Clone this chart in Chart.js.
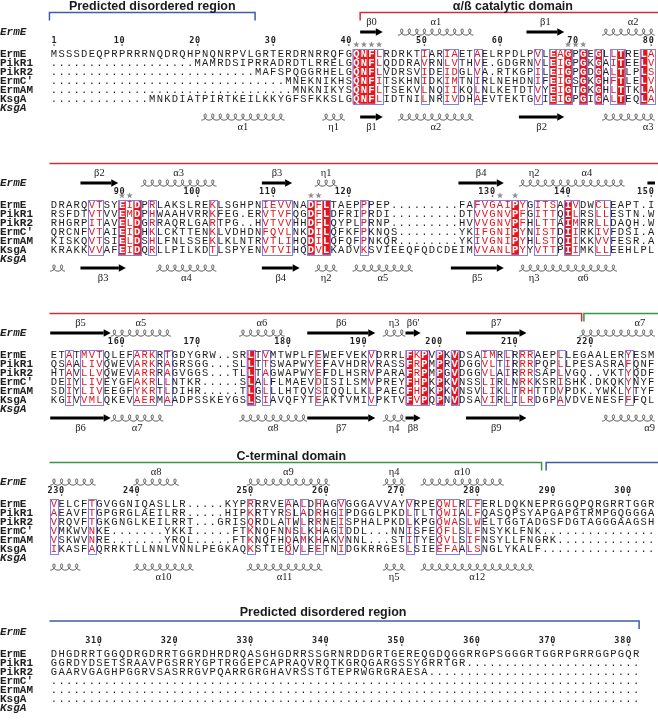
<!DOCTYPE html>
<html>
<head>
<meta charset="utf-8">
<script src="https://cdn.jsdelivr.net/npm/chart.js@4.4.0/dist/chart.umd.min.js"></script>
<style>
  html, body { margin: 0; padding: 0; background: #fff; }
  canvas { display: block; }
</style>
</head>
<body>
<canvas id="aln" width="658" height="722"></canvas>
<script>
// Sequence names, one per alignment row
const seqNames = ['ErmE', 'PikR1', 'PikR2', "ErmC'", 'ErmAM', 'KsgA'];

// Alignment blocks (gaps are '.')
const block1 = [
    'MSSSDEQPRPRRRNQDRQHPNQNRPVLGRTERDRNRRQFGQNFLRDRKTIARIAETAELRPDLPVLEAGPGEGLLTRELA',
    '..........' + '.........' + 'MAMRDSIPRRADRDTLRRELGQNFLQDDRAVRNLVTHVE.GDGRNVLEIGPGKGAITEELV',
    '..........' + '..........' + '.......' + 'MAFSPQGGRHELGQNFLVDRSVIDEIDGLVA.RTKGPILEIGPGDGALTLPLS',
    '..........' + '..........' + '..........' + '.' + 'MNEKNIKHSQNFITSKHNIDKIMTNIRLNEHDNIFEIGSGKGHFTLELV',
    '..........' + '..........' + '..........' + '..' + 'MNKNIKYSQNFLTSEKVLNQIIKQLNLKETDTVYEIGTGKGHLTTKLA',
    '..........' + '...' + 'MNKDIATPIRTKEILKKYGFSFKKSLGQNFLIDTNILNRIVDHAEVTEKTGVIEIGPGIGALTEQLA'
];
const block2 = [
    'DRARQVTSYEIDPRLAKSLREKLSGHPNIEVVNADFLTAEPPPEP.........FAFVGAIPYGITSAIVDWCLEAPT.I',
    'RSFDTVTVVEMDPHWAAHVRRKFEG.ERVTVFQGDFLDFRIPRDI.........DTVVGNVPFGITTQILRSLLESTN.W',
    'RHGRPITAVELDGRRAQRLGARTPG..HVTVVHHDFLQYPLPRNP.........HVVVGNVPFHLTTAIMRRLLDAQH.W',
    'QRCNFVTAIEIDHKLCKTTENKLVDHDNFQVLNKDILQFKFPKNQS........YKIFGNIPYNISTDIIRKIVFDSI.A',
    'KISKQVTSIELDSHLFNLSSEKLKLNTRVTLIHQDILQFQFPNKQR........YKIVGNIPYHLSTQIIKKVVFESR.A',
    'KRAKKVVAFEIDQRLLPILKDTLSPYENVTVIHQDVLKADVKSVIEEQFQDCDEIMVVANLPYYVTTPIIMKLLEEHLPL'
];
const block3 = [
    'ETATMVTQLEFARKRTGDYGRW..SRLTVMTWPLFEWEFVEKVDRRLFKPVPKVDSAIMRLRRRAEPLLEGAALERYESM',
    'QSAALIVQWEVARKRAGRSGG...SLLTTSWAPWYEFAVHDRVRASSFRPMPRVDGGVLTIRRRPQPLLPESASRAFQNF',
    'HTAVLLVQWEVARRRAGVGGS...TLLTAGWAPWYEFDLHSRVPARAFRPMPGVDGGVLAIRRRSAPLVGQ..VKTYQDF',
    'DEIYLIVEYGFAKRLLNTKR.....SLALFLMAEVDISILSMVPREYFHPKPKVNSSLIRLNRKKSRISHK.DKQKYNYF',
    'SDIYLIVEEGFYKRTLDIHR.....TLGLLLHTQVSIQQLLKLPAECFHPKPKVNSVLIKLTRHTTDVPDK.YWKLYTYF',
    'KGIVVMLQKEVAERMAADPSSKEYGSLSIAVQFYTEAKTVMIVPKTVFVPQPNVDSAVIRLILRDGPAVDVENESFFFQL'
];
const block4 = [
    'VELCFTGVGGNIQASLLR.....KYPRRRVEAALDHAGVGGGAVVAYVRPEQWLRLFERLDQKNEPRGGQPQRGRRTGGR',
    'AEAVFTGPGRGLAEILRR.....HIPKRTYRSLADRHGIPDGGLPKDLTLTQWIALFQASQPSYAPGAPGTRMPGQGGGA',
    'VRQVFTGKGNGLKEILRRT...GRISQRDLATWLRRNEISPHALPKDLKPGQWASLWELTGGTADGSFDGTAGGGAAGSH',
    'VMKWVNKE.......YKKI.....FTKNQFNNSLKHAGIDDL...NNISFEQFLSLFNSYKLFNK' + '..........' + '.....',
    'VSKWVNRE.......YRQL.....FTKNQFHQAMKHAKVNNL...STITYEQVLSIFNSYLLFNGRK' + '..........' + '...',
    'IKASFAQRRKTLLNNLVNNLPEGKAQKSTIEQVLEETNIDGKRRGESLSIEEFAALSNGLYKALF' + '..........' + '.....'
];
const block5 = [
    'DHGDRRTGGQDRGDRRTGGRDHRDRQASGHGDRRSSGRNRDDGRTGEREQGDQGGRRGPSGGGRTGGRPGRRGGPGQR',
    'GGRDYDSETSRAAVPGSRRYGPTRGGEPCAPRAQVRQTKGRQGARGSSYGRRTGR' + '..........' + '..........' + '...',
    'GAARVGAGHPGGRVSASRRGVPQARRGRGHAVRSSTGTEPRWGRGRAESA' + '..........' + '..........' + '........',
    '..........' + '..........' + '..........' + '..........' + '..........' + '..........' + '..........' + '........',
    '..........' + '..........' + '..........' + '..........' + '..........' + '..........' + '..........' + '........',
    '..........' + '..........' + '..........' + '..........' + '..........' + '..........' + '..........' + '........'
];
const blocks = [block1, block2, block3, block4, block5];

// Strictly conserved columns (red background) and framed similar columns, per block
const filledCols = [
    [41, 42, 43, 67, 69, 71, 73, 76, 79],
    [10, 12, 35, 37, 62, 69],
    [27, 48, 50, 52, 54],
    [],
    []
];
const framedCols = [
    [41, 42, 43, 44, 50, 53, 54, 57, 65, 67, 68, 69, 71, 73, 75, 76, 79, 80],
    [6, 7, 10, 11, 12, 14, 22, 29, 30, 31, 32, 35, 36, 37, 42, 57, 58, 59, 60, 61, 62, 63, 65, 66, 67, 69, 70, 73, 74],
    [3, 5, 6, 7, 12, 13, 14, 16, 27, 29, 36, 43, 48, 49, 50, 52, 54, 58, 59, 61, 63, 64, 68, 77],
    [1, 6, 27, 32, 34, 36, 39, 48, 52, 53, 54, 56, 57],
    []
];
// grey stars above the ErmE numbering
const starCols = [
    [41, 42, 43, 44, 69, 70, 71],
    [10, 11, 35, 36, 60, 62],
    [], [], []
];

// Secondary structure: [type, fromCol, toCol, label, labelCol?]  H = helix, E = strand, B = strand continuing
const ssErmE = [
    [['E', 42, 44, 'β0'], ['H', 47, 56, 'α1'], ['E', 64, 68, 'β1'], ['H', 74, 80, 'α2', 77.6]],
    [['E', 5, 9, 'β2'], ['H', 13, 22, 'α3'], ['E', 29, 32, 'β3'], ['H', 36, 38, 'η1'], ['E', 55, 60, 'β4'],
     ['H', 63, 66, 'η2'], ['H', 67, 76, 'α4'], ['B', 80, 80, '']],
    [['E', 1, 8, 'β5'], ['H', 9, 16, 'α5'], ['H', 26, 31, 'α6'], ['E', 35, 43, 'β6'], ['H', 45, 47, 'η3'],
     ['E', 48, 49, "β6'"], ['E', 56, 63, 'β7'], ['H', 71, 80, 'α7', 78.5]],
    [['H', 1, 6, ''], ['H', 12, 17, 'α8'], ['H', 27, 37, 'α9'], ['H', 45, 47, 'η4'], ['H', 50, 60, 'α10']],
    []
];
const ssKsgA = [
    [['H', 21, 31, 'α1'], ['H', 37, 39, 'η1'], ['E', 42, 44, 'β1'], ['H', 47, 56, 'α2'], ['E', 63, 68, 'β2'],
     ['H', 74, 80, 'α3', 79.6]],
    [['H', 1, 2, ''], ['E', 5, 10, 'β3'], ['H', 15, 22, 'α4'], ['E', 29, 33, 'β4'], ['H', 36, 38, 'η2'],
     ['H', 41, 48, 'α5'], ['E', 54, 60, 'β5'], ['H', 63, 66, 'η3'], ['H', 67, 75, 'α6']],
    [['E', 1, 8, 'β6'], ['H', 9, 15, 'α7'], ['H', 26, 34, 'α8'], ['E', 35, 43, 'β7'], ['H', 45, 47, 'η4'],
     ['E', 48, 49, 'β8'], ['E', 56, 63, 'β9'], ['H', 74, 80, 'α9', 79.8]],
    [['H', 1, 4, ''], ['H', 12, 19, 'α10'], ['H', 27, 36, 'α11'], ['H', 45, 47, 'η5'], ['H', 50, 64, 'α12']],
    []
];

// Domain brackets: [block, domain, fromCol, toCol, tickLeft, tickRight]
const domainSpans = [
    [0, 'disorder', 0.4, 27.6, true, true],
    [0, 'catalytic', 41.5, 90, true, false],
    [1, 'catalytic', 0.4, 90, false, false],
    [2, 'catalytic', 0.4, 70.8, false, true],
    [2, 'cterm', 71.1, 90, true, false],
    [3, 'cterm', 0.4, 65.5, false, true],
    [3, 'disorder', 66.1, 90, true, false],
    [4, 'disorder', 0.4, 78.4, false, true]
];
// Domain titles: [block, centreCol, text]
const domainTitles = [
    [0, 14, 'Predicted disordered region'],
    [0, 61.7, 'α/ß catalytic domain'],
    [3, 32.4, 'C-terminal domain'],
    [4, 36.6, 'Predicted disordered region']
];

// layout
const BLOCK_Y = [54, 205, 355, 504, 654];
const ROW_H = 9;
const DOMAIN_COLORS = { disorder: '#3f5cad', catalytic: '#c8323c', cterm: '#3c9449' };
const RED = '#e3161c';
const FRAME = '#7f7ff2';
const INK = '#1e1e1e';

// quick sanity check of block widths
const problems = [];
const widths = [80, 80, 80, 80, 78];
blocks.forEach((rows, b) => rows.forEach((s, r) => {
    if (s.length !== widths[b]) problems.push('b' + (b + 1) + ' r' + (r + 1) + ' len ' + s.length);
}));

// ErmE numbering (every 10 residues plus the first)
const numberLabels = blocks.map(() => []);
let pos = 0;
blocks.forEach((rows, b) => {
    rows[0].split('').forEach((ch, i) => {
        if (ch === '.') return;
        pos++;
        if (pos === 1 || pos % 10 === 0) numberLabels[b].push([i + 1, pos]);
    });
});

const datasets = [];
blocks.forEach((rows, b) => rows.forEach((seq, r) => {
    datasets.push({
        label: seqNames[r] + ' block ' + (b + 1),
        data: seq.split('').map((ch, i) => ({ x: i + 1, y: BLOCK_Y[b] + r * ROW_H, ch: ch })),
        pointRadius: 0,
        showLine: false,
        block: b,
        row: r
    });
}));

function drawStar(ctx, x, y, r) {
    ctx.beginPath();
    for (let k = 0; k < 10; k++) {
        const a = -Math.PI / 2 + k * Math.PI / 5;
        const rr = k % 2 ? r * 0.42 : r;
        ctx.lineTo(x + rr * Math.cos(a), y + rr * Math.sin(a));
    }
    ctx.closePath();
    ctx.fill();
}

function drawCoil(ctx, x1, x2, y, colW) {
    const n = Math.max(1, Math.round((x2 - x1) / colW));
    const w = (x2 - x1) / n;
    const c = w / (2 * Math.PI);
    const R = 2.7;
    ctx.beginPath();
    for (let t = 0; t <= 2 * Math.PI * n + 0.001; t += 0.1) {
        const px = x1 + c * t + R * Math.sin(t);
        const py = y + 3.1 * Math.cos(t);
        if (t === 0) ctx.moveTo(px, py); else ctx.lineTo(px, py);
    }
    ctx.stroke();
}

function drawArrow(ctx, x1, x2, y, head) {
    const hl = head ? Math.min(7, (x2 - x1) * 0.45) : 0;
    ctx.fillRect(x1, y - 1.5, x2 - x1 - hl, 3);
    if (head) {
        ctx.beginPath();
        ctx.moveTo(x2 - hl, y - 3.8);
        ctx.lineTo(x2, y);
        ctx.lineTo(x2 - hl, y + 3.8);
        ctx.closePath();
        ctx.fill();
    }
}

const alignmentPlugin = {
    id: 'alignment',
    beforeDatasetsDraw(chart) {
        const ctx = chart.ctx;
        const xs = chart.scales.x, ys = chart.scales.y;
        const hw = (xs.getPixelForValue(2) - xs.getPixelForValue(1)) / 2;
        ctx.save();
        blocks.forEach((rows, b) => {
            const top = ys.getPixelForValue(BLOCK_Y[b]) - ROW_H / 2 - 0.3;
            const bot = ys.getPixelForValue(BLOCK_Y[b] + (rows.length - 1) * ROW_H) + ROW_H / 2 + 0.3;
            // red columns
            ctx.fillStyle = RED;
            filledCols[b].forEach(c => {
                const x = xs.getPixelForValue(c);
                ctx.fillRect(x - hw, top, hw * 2, bot - top);
            });
            // blue frames around runs of similar columns
            const cols = framedCols[b].slice().sort((a, b2) => a - b2);
            ctx.strokeStyle = FRAME;
            ctx.lineWidth = 1;
            let i = 0;
            while (i < cols.length) {
                let j = i;
                while (j + 1 < cols.length && cols[j + 1] === cols[j] + 1) j++;
                const xa = xs.getPixelForValue(cols[i]) - hw;
                const xb = xs.getPixelForValue(cols[j]) + hw;
                ctx.strokeRect(Math.round(xa) + 0.5, Math.round(top) + 0.5, Math.round(xb - xa), Math.round(bot - top));
                i = j + 1;
            }
        });
        ctx.restore();
    },
    afterDatasetsDraw(chart) {
        const ctx = chart.ctx;
        const xs = chart.scales.x, ys = chart.scales.y;
        const colW = xs.getPixelForValue(2) - xs.getPixelForValue(1);
        ctx.save();
        ctx.textAlign = 'center';
        ctx.textBaseline = 'middle';

        // residues
        chart.data.datasets.forEach((ds, di) => {
            const meta = chart.getDatasetMeta(di);
            const filled = filledCols[ds.block];
            const framed = framedCols[ds.block];
            meta.data.forEach((pt, j) => {
                const ch = ds.data[j].ch;
                const col = ds.data[j].x;
                if (filled.includes(col)) {
                    ctx.font = 'bold 10.5px "Liberation Mono"';
                    ctx.fillStyle = '#ffffff';
                } else if (framed.includes(col) && ch !== '.') {
                    ctx.font = '10.5px "Liberation Mono"';
                    ctx.fillStyle = RED;
                } else {
                    ctx.font = '10.5px "Liberation Mono"';
                    ctx.fillStyle = INK;
                }
                ctx.fillText(ch, pt.x, pt.y + 0.5);
            });
        });

        blocks.forEach((rows, b) => {
            const y0 = BLOCK_Y[b];
            // names
            ctx.textAlign = 'left';
            ctx.fillStyle = INK;
            ctx.font = 'bold 11px "Liberation Mono"';
            rows.forEach((s, r) => ctx.fillText(seqNames[r], 0, ys.getPixelForValue(y0 + r * ROW_H) + 0.5));
            ctx.font = 'italic bold 11px "Liberation Mono"';
            ctx.fillText('ErmE', 0, ys.getPixelForValue(y0 - 22));
            ctx.fillText('KsgA', 0, ys.getPixelForValue(y0 + 6 * ROW_H));

            // numbering
            ctx.font = 'bold 8.5px "DejaVu Sans Mono"';
            ctx.textAlign = 'center';
            numberLabels[b].forEach(([col, n]) => {
                const x = xs.getPixelForValue(col);
                const digits = String(n).split('');
                digits.forEach((d, k) => {
                    ctx.fillText(d, x - (digits.length - 1 - k) * 5.8, ys.getPixelForValue(y0 - 13));
                });
                ctx.fillRect(x - 0.6, ys.getPixelForValue(y0 - 9) - 0.6, 1.3, 1.3);
            });

            // stars
            ctx.fillStyle = '#8e8e8e';
            starCols[b].forEach(c => drawStar(ctx, xs.getPixelForValue(c), ys.getPixelForValue(y0 - 9.5), 3.3));

            // secondary structure
            const drawSS = (list, trackY, labelY) => {
                list.forEach(el => {
                    const [type, from, to, label, labelCol] = el;
                    const x1 = xs.getPixelForValue(from) - colW / 2;
                    const x2 = xs.getPixelForValue(to) + colW / 2;
                    const ty = ys.getPixelForValue(trackY);
                    ctx.fillStyle = '#000';
                    ctx.strokeStyle = '#333';
                    ctx.lineWidth = 0.9;
                    if (type === 'H') drawCoil(ctx, x1, x2, ty, colW);
                    else drawArrow(ctx, x1, x2, ty, type === 'E');
                    if (label) {
                        ctx.fillStyle = '#222';
                        ctx.font = '10.5px "Liberation Serif"';
                        ctx.textAlign = 'center';
                        const lc = labelCol !== undefined ? labelCol : (from + to) / 2;
                        ctx.fillText(label, xs.getPixelForValue(lc), ys.getPixelForValue(labelY));
                    }
                });
            };
            drawSS(ssErmE[b], y0 - 22, y0 - 32);
            drawSS(ssKsgA[b], y0 + 63, y0 + 73);
        });

        // domain brackets
        domainSpans.forEach(([b, dom, from, to, tl, tr]) => {
            const lineY = ys.getPixelForValue(BLOCK_Y[b] - (b === 4 ? 33 : 41.5));
            const xa = xs.getPixelForValue(from);
            const xb = Math.min(xs.getPixelForValue(to), chart.width + 2);
            ctx.strokeStyle = DOMAIN_COLORS[dom];
            ctx.lineWidth = 1.5;
            ctx.beginPath();
            if (tl) { ctx.moveTo(xa, lineY + 8); ctx.lineTo(xa, lineY); } else ctx.moveTo(xa, lineY);
            ctx.lineTo(xb, lineY);
            if (tr) ctx.lineTo(xb, lineY + 8);
            ctx.stroke();
        });
        ctx.fillStyle = '#1a1a1a';
        ctx.font = 'bold 12.5px "Liberation Sans"';
        ctx.textAlign = 'center';
        ctx.textBaseline = 'alphabetic';
        domainTitles.forEach(([b, col, text]) => {
            const lineY = ys.getPixelForValue(BLOCK_Y[b] - (b === 4 ? 33 : 41.5));
            ctx.fillText(text, xs.getPixelForValue(col), lineY - (b === 4 ? 5 : 3));
        });

        if (problems.length) {
            ctx.fillStyle = 'magenta';
            ctx.font = '12px sans-serif';
            ctx.textAlign = 'left';
            ctx.fillText(problems.join(' | '), 5, 716);
        }
        ctx.restore();
    }
};

new Chart(document.getElementById('aln').getContext('2d'), {
    type: 'scatter',
    data: { datasets: datasets },
    options: {
        responsive: false,
        animation: false,
        devicePixelRatio: 1,
        events: [],
        layout: { padding: 0 },
        scales: {
            x: { type: 'linear', min: -6.143, max: 80.9, display: false },
            y: { type: 'linear', min: 0, max: 722, reverse: true, display: false }
        },
        plugins: {
            legend: { display: false },
            tooltip: { enabled: false }
        }
    },
    plugins: [alignmentPlugin]
});
</script>
</body>
</html>
